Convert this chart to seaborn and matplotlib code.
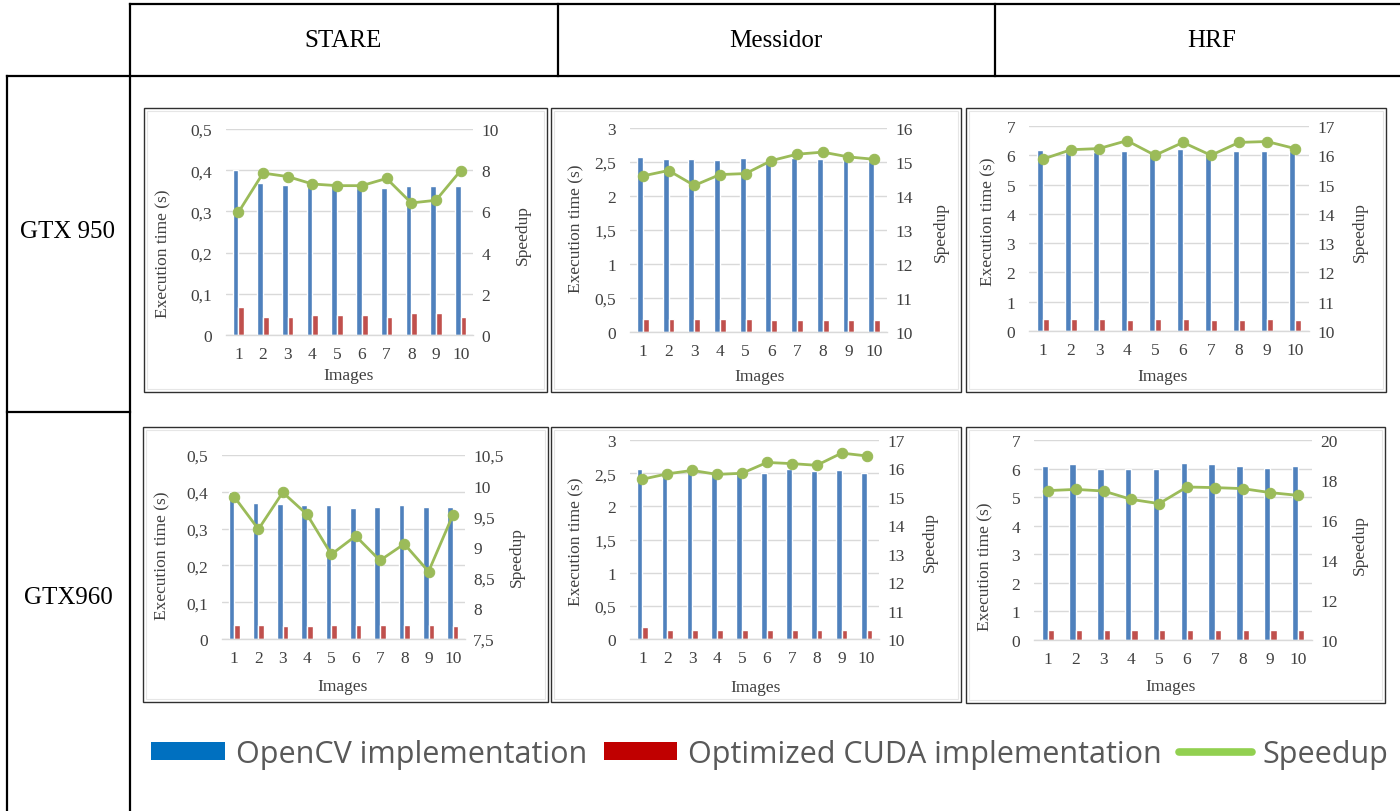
import numpy as np
import pandas as pd
import matplotlib
matplotlib.use("Agg")
import matplotlib.pyplot as plt
import seaborn as sns
from matplotlib.lines import Line2D
from matplotlib.patches import Patch, Rectangle
from matplotlib.ticker import FuncFormatter

# ---------------------------------------------------------------- data
images = [str(i) for i in range(1, 11)]
datasets = ["STARE", "Messidor", "HRF"]
gpus = ["GTX 950", "GTX960"]
series_names = ["OpenCV implementation", "Optimized CUDA implementation", "Speedup"]

# GTX 950
opencv_950_stare = [0.400, 0.370, 0.365, 0.361, 0.361, 0.358, 0.358, 0.361, 0.361, 0.361]
cuda_950_stare = [0.067, 0.044, 0.044, 0.048, 0.048, 0.048, 0.044, 0.054, 0.054, 0.044]
speedup_950_stare = [5.95, 7.86, 7.69, 7.33, 7.25, 7.25, 7.60, 6.41, 6.54, 7.98]

opencv_950_messidor = [2.58, 2.54, 2.54, 2.53, 2.56, 2.52, 2.56, 2.54, 2.56, 2.52]
cuda_950_messidor = [0.19, 0.19, 0.19, 0.19, 0.19, 0.17, 0.17, 0.17, 0.17, 0.17]
speedup_950_messidor = [14.59, 14.75, 14.31, 14.63, 14.66, 15.04, 15.23, 15.29, 15.15, 15.08]

opencv_950_hrf = [6.19, 6.10, 6.10, 6.13, 6.10, 6.22, 6.10, 6.13, 6.13, 6.13]
cuda_950_hrf = [0.40, 0.40, 0.40, 0.39, 0.40, 0.40, 0.39, 0.39, 0.40, 0.39]
speedup_950_hrf = [15.87, 16.19, 16.23, 16.50, 16.00, 16.44, 16.00, 16.44, 16.47, 16.23]

# GTX960
opencv_960_stare = [0.400, 0.369, 0.366, 0.363, 0.363, 0.355, 0.360, 0.363, 0.360, 0.360]
cuda_960_stare = [0.039, 0.039, 0.034, 0.034, 0.039, 0.039, 0.039, 0.039, 0.039, 0.034]
speedup_960_stare = [9.82, 9.29, 9.89, 9.53, 8.88, 9.18, 8.78, 9.05, 8.60, 9.52]

opencv_960_messidor = [2.57, 2.54, 2.52, 2.49, 2.54, 2.51, 2.56, 2.54, 2.55, 2.51]
cuda_960_messidor = [0.176, 0.14, 0.14, 0.14, 0.14, 0.14, 0.14, 0.14, 0.14, 0.14]
speedup_960_messidor = [15.62, 15.81, 15.93, 15.79, 15.83, 16.21, 16.17, 16.11, 16.54, 16.44]

opencv_960_hrf = [6.09, 6.15, 6.00, 6.00, 6.00, 6.18, 6.15, 6.09, 6.03, 6.09]
cuda_960_hrf = [0.34, 0.34, 0.34, 0.34, 0.34, 0.34, 0.34, 0.34, 0.34, 0.34]
speedup_960_hrf = [17.47, 17.53, 17.45, 17.03, 16.82, 17.65, 17.62, 17.57, 17.37, 17.23]

# ---------------------------------------------------------------- style
W, H = 1400, 812
BLUE, RED, GREEN = "#4F81BD", "#C0504D", "#9BBB59"
LEG_BLUE, LEG_RED, LEG_GREEN = "#0070C0", "#C00000", "#92D050"
GRID = "#D9D9D9"
TXT = "#404040"

sns.set_style("white")
plt.rcParams["font.family"] = ["Liberation Serif", "DejaVu Serif"]

fig = plt.figure(figsize=(W / 100, H / 100), dpi=100)


def fx(x):
    return x / W


def fy(y):
    return 1 - y / H


def rect(x0, y0, x1, y1):
    return [fx(x0), fy(y1), (x1 - x0) / W, (y1 - y0) / H]


def comma(v, _pos=None):
    if abs(v - round(v)) < 1e-9:
        return f"{int(round(v))}"
    return f"{v:g}".replace(".", ",")


# ---------------------------------------------------------------- table frame
def hline(y, x0, x1):
    fig.add_artist(Line2D([fx(x0), fx(x1)], [fy(y), fy(y)], color="black", lw=1.6,
                          solid_capstyle="projecting"))


def vline(x, y0, y1):
    fig.add_artist(Line2D([fx(x), fx(x)], [fy(y0), fy(y1)], color="black", lw=1.6,
                          solid_capstyle="projecting"))


hline(5, 130, 1400)
hline(77, 7, 1400)
hline(413, 7, 130)
vline(130, 5, 812)
vline(7, 77, 812)
vline(558, 5, 77)
vline(995, 5, 77)

for name, cx in zip(datasets, [343, 776, 1212]):
    fig.text(fx(cx), fy(41), name, ha="center", va="center", fontsize=18, color="black")
for name, cy in zip(gpus, [232, 598]):
    fig.text(fx(68), fy(cy), name, ha="center", va="center", fontsize=18, color="black")

# ---------------------------------------------------------------- panels
panels = [
    # values, left axis, right axis, plot area, frame, ylabel pos, speedup label pos, xlabel pos
    (opencv_950_stare, cuda_950_stare, speedup_950_stare, (0, 0.5, 0.1), (0, 10, 2),
     (226, 130, 473, 336), (144, 109, 547, 393), (163, 254), (523, 235), (349, 376)),
    (opencv_950_messidor, cuda_950_messidor, speedup_950_messidor, (0, 3, 0.5), (10, 16, 1),
     (630, 129, 887, 333), (551, 109, 961, 393), (576, 229), (941, 232), (760, 377)),
    (opencv_950_hrf, cuda_950_hrf, speedup_950_hrf, (0, 7, 1), (10, 17, 1),
     (1029, 127, 1309, 332), (966, 109, 1386, 393), (988, 222), (1360, 232), (1163, 377)),
    (opencv_960_stare, cuda_960_stare, speedup_960_stare, (0, 0.5, 0.1), (7.5, 10.5, 0.5),
     (222, 456, 465, 640), (143, 428, 548, 703), (162, 556), (517, 557), (343, 687)),
    (opencv_960_messidor, cuda_960_messidor, speedup_960_messidor, (0, 3, 0.5), (10, 17, 1),
     (630, 441, 879, 640), (551, 428, 961, 703), (576, 542), (930, 542), (756, 688)),
    (opencv_960_hrf, cuda_960_hrf, speedup_960_hrf, (0, 7, 1), (10, 20, 2),
     (1034, 441, 1312, 641), (966, 428, 1385, 704), (985, 567), (1360, 545), (1171, 687)),
]

TICK_FS = 12.5
LABEL_FS = 12.5

for (ocv, cuda, spd, laxis, raxis, area, frame, ylab, slab, xlab) in panels:
    # chart frame
    fx0, fy0, fx1, fy1 = frame
    fig.add_artist(Rectangle((fx(fx0), fy(fy1)), (fx1 - fx0) / W, (fy1 - fy0) / H,
                             transform=fig.transFigure, fill=False, ec="#303030", lw=1.0))
    fig.add_artist(Rectangle((fx(fx0 + 3), fy(fy1 - 3)), (fx1 - fx0 - 6) / W, (fy1 - fy0 - 6) / H,
                             transform=fig.transFigure, fill=False, ec="#E6E6E6", lw=0.8))

    ax = fig.add_axes(rect(*area))
    df = pd.DataFrame({
        "Images": images * 2,
        "time": list(ocv) + list(cuda),
        "impl": [series_names[0]] * 10 + [series_names[1]] * 10,
    })
    sns.barplot(data=df, x="Images", y="time", hue="impl", order=images,
                hue_order=series_names[:2], palette=[BLUE, RED], saturation=1,
                width=0.46, legend=False, ax=ax, errorbar=None)
    lo, hi, st = laxis
    ax.set_ylim(lo, hi)
    ax.set_yticks(np.arange(lo, hi + st / 2, st))
    ax.yaxis.set_major_formatter(FuncFormatter(comma))
    ax.set_xlim(-0.5, 9.5)
    ax.set_axisbelow(True)
    ax.yaxis.grid(True, color=GRID, lw=1.0)
    ax.xaxis.grid(False)
    for s in ["top", "left", "right"]:
        ax.spines[s].set_visible(False)
    ax.spines["bottom"].set_color(GRID)
    ax.spines["bottom"].set_linewidth(1.0)
    ax.tick_params(axis="y", length=0, pad=10, labelsize=TICK_FS, labelcolor=TXT)
    ax.tick_params(axis="x", length=0, pad=8, labelsize=TICK_FS, labelcolor=TXT)
    ax.set_xlabel("")
    ax.set_ylabel("")
    ax.patch.set_alpha(0)

    ax2 = ax.twinx()
    sns.lineplot(x=np.arange(10), y=spd, ax=ax2, color=GREEN, lw=2.0, marker="o",
                 markersize=7.5, markeredgecolor=GREEN, markerfacecolor=GREEN)
    rlo, rhi, rst = raxis
    ax2.set_ylim(rlo, rhi)
    ax2.set_yticks(np.arange(rlo, rhi + rst / 2, rst))
    ax2.yaxis.set_major_formatter(FuncFormatter(comma))
    ax2.grid(False)
    for s in ax2.spines.values():
        s.set_visible(False)
    ax2.tick_params(axis="y", length=0, pad=6, labelsize=TICK_FS, labelcolor=TXT)
    ax2.set_ylabel("")
    ax2.set_xlim(-0.5, 9.5)

    fig.text(fx(ylab[0]), fy(ylab[1]), "Execution time (s)", rotation=90, ha="center",
             va="center", fontsize=LABEL_FS, color=TXT)
    fig.text(fx(slab[0]), fy(slab[1]), "Speedup", rotation=90, ha="center",
             va="center", fontsize=LABEL_FS, color=TXT)
    fig.text(fx(xlab[0]), fy(xlab[1]), "Images", ha="center", va="center",
             fontsize=LABEL_FS, color=TXT)

# ---------------------------------------------------------------- legend
handles = [
    Patch(facecolor=LEG_BLUE, edgecolor="none"),
    Patch(facecolor=LEG_RED, edgecolor="none"),
    Line2D([0], [0], color=LEG_GREEN, lw=5.5, solid_capstyle="round"),
]
leg = fig.legend(handles, series_names, loc="center", bbox_to_anchor=(fx(770), fy(755)),
                 ncol=3, frameon=False, handlelength=2.4, handleheight=0.52,
                 handletextpad=0.36, columnspacing=0.55,
                 prop={"family": ["Open Sans", "DejaVu Sans"], "size": 22})
for t in leg.get_texts():
    t.set_color("#595959")

fig.savefig("out.png", dpi=100, facecolor="white")
